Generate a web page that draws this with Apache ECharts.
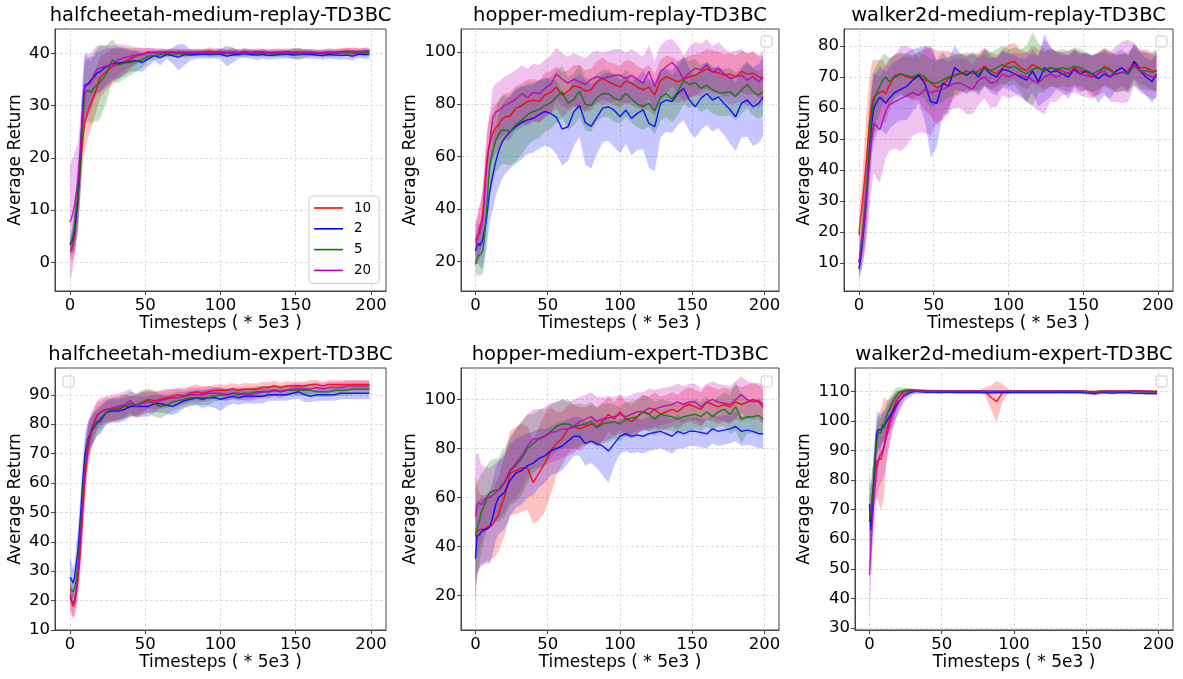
<!DOCTYPE html>
<html><head><meta charset="utf-8">
<script src="https://cdn.jsdelivr.net/npm/echarts@6/dist/echarts.min.js"></script>
<style>html,body{margin:0;padding:0;background:#fff}#c{width:1183px;height:679px}</style>
</head><body><div id="c"></div>
<script>
// ---- shared x grid (training iterations, *5e3 timesteps) ----
const xs = [0,1,2,3,4,5,6,7,8,9,10, 12,14,16,18,20, 24,28,32,36,40,44,48,52,56,60, 64,68,72,76,80,84,88,92,96,100, 104,108,112,116,120,124,128,132,136,140, 144,148,152,156,160,164,168,172,176,180, 184,188,192,196,199];
const xTicks = [0,50,100,150,200];
const seriesNames = ['10','2','5','20'];

// ---- halfcheetah-medium-replay ----
const hcMR_10 = [2,2.5,3.5,5.5,9,11,15,19,22,25,27, 29,30.5,32,33.5,35.5, 36.5,37.5,38,38.5,39,39.5,39.8,40.3,40.2,40.1, 40.3,40.2,40.3,40.1,40.2,40.3,40.2,40.5,40.3,40.4, 40.2,40.3,40.1,40.3,40.2,40.4,40.3,40.1,40.2,40.3, 40.4,40.2,40.3,40.1,40.3,40.2,40.0,40.2,40.3,40.4, 40.5,40.3,40.4,40.3,40.4];
const hcMR_10sd = [1.5,2,3,4,5,6,6,6,5.5,5,5, 5,5,4.5,4,4, 3.5,3.5,3,2.5,2,1.5,1.2,0.8,0.7,0.7, 0.6,0.7,0.6,0.6,0.7,0.6,0.6,0.7,0.6,0.6, 0.6,0.7,0.6,0.6,0.7,0.6,0.6,0.6,0.7,0.6, 0.6,0.6,0.7,0.6,0.6,0.6,0.7,0.6,0.6,0.6, 0.6,0.7,0.6,0.7,0.6];
const hcMR_2 = [3.3,3.5,4.5,6,8.5,12,16,21,27,32,34, 34.2,35,35.5,36.3,36.5, 37.5,38,38.2,38.3,38.5,38.6,38.3,39,39.6,39.2, 39.8,39.6,39.3,39.8,39.7,39.8,39.9,39.8,39.8,39.9, 39.5,39.7,39.8,40.0,39.8,39.7,39.8,39.6,39.7,39.8, 39.9,39.7,39.8,39.9,39.8,39.7,39.6,39.8,39.7,39.6, 39.7,39.5,39.9,39.8,39.8];
const hcMR_2sd = [1.5,2,3,4,5,6,6,6,6,6,6, 5,4.5,4,4,4, 3.5,3,3,2.5,2,2,1.8,1.5,1,1.5, 0.8,1.5,2.5,2,1,0.8,0.8,0.8,0.8,1, 2,1.5,0.8,0.8,0.8,1,0.8,0.8,0.8,0.8, 0.8,0.8,0.8,0.8,0.8,0.8,0.8,0.8,0.8,0.8, 0.8,0.8,0.8,0.8,0.8];
const hcMR_5 = [3.5,4,5,7,10,12,15,19,25,29,32.5, 33,32.5,33.5,34,34.5, 36,38.8,37.8,38.2,38.3,38.5,38.8,39.5,39.6,39.8, 40.0,39.9,40.0,39.9,40.0,40.1,40.0,40.1,39.9,40.0, 40.1,40.0,40.1,40.0,40.1,40.0,40.0,40.1,39.9,40.0, 40.0,40.1,39.9,40.0,40.1,40.0,40.1,40.0,40.0,40.1, 40.2,40.0,40.1,40.1,40.2];
const hcMR_5sd = [1.5,2,3,4,5,6,6,6,6,6,6, 6,6,6.5,7,7, 5.5,4,3.5,3,2.5,2,1.5,1,0.8,0.7, 0.7,0.6,0.6,0.7,0.6,0.6,0.6,0.7,0.6,0.6, 0.6,0.6,0.7,0.6,0.6,0.6,0.7,0.6,0.6,0.6, 0.6,1,1.2,0.8,0.6,0.6,0.6,0.7,0.6,0.6, 0.6,0.6,0.6,0.7,0.6];
const hcMR_20 = [7.7,8.5,9.5,11,13,14.5,18,22,27,31,33.5, 34,34.5,36,37,37.2, 37.6,38,38.8,39.2,39.5,39.7,39.9,40.1,40.2,40.3, 40.2,40.3,40.1,40.3,40.2,40.1,40.3,40.2,40.3,40.2, 40.1,40.3,40.2,40.4,40.2,40.1,40.3,40.2,40.3,40.2, 40.1,40.3,40.2,40.3,40.2,40.1,40.2,40.3,40.2,40.3, 40.4,40.5,40.3,40.5,40.5];
const hcMR_20sd = [11,11,10.5,10,9,8,7,6.5,6,6,6.5, 6,5.5,5,4.5,4.5, 4,3.5,3,2.5,2,1.5,1.2,1,0.8,0.7, 0.6,0.6,0.7,0.6,0.6,0.7,0.6,0.6,0.6,0.7, 0.6,0.6,0.6,0.7,0.6,0.6,0.6,0.7,0.6,0.6, 0.6,0.6,0.7,0.6,0.6,0.6,0.6,0.7,0.6,0.6, 0.6,0.7,0.6,0.7,0.6];

// ---- hopper-medium-replay ----
const hopMR_10 = [28,29,30,33,35,38,45,53,59,63,65, 69,71,72,74,75, 75.5,78.5,79.5,81,81.5,81,83.5,84.5,86.5,83.5, 85,87,86.5,85,85.5,88.5,89.8,88.5,87.5,86.5, 88.8,88,86.5,85.5,86.5,83.5,89,90.5,89.5,88.5, 89.5,90.5,91,92.3,93.5,92.5,92,91,91.5,90.5, 92.5,91.5,91.8,90.5,89.8];
const hopMR_10sd = [6,7,8,9,9,10,10,10,10,10,10, 10,9.5,9,9,9, 9,8.5,8.5,8.5,8,8,8.5,8,8,8.5, 8,8,8.5,8,8,8,8,7.5,8,8, 8,8.5,8,8,8.5,8,8,8,8.5,8, 8,8,8,7.5,7.5,8,8,8,8,8, 8,8,8,8,8.5];
const hopMR_2 = [24,26,27,26,26,28,31,34,38,43,47, 53,58,62,65,67, 69.5,71.4,73,74,74.6,76,77.2,76.5,75,70.5, 71.4,77,79.5,73,71.5,75,78.5,79,77.7,75.2, 77.8,74.6,76.5,77.8,72.7,71.4,80.3,81.6,81,84.1, 86,81.6,79,82.2,84.1,81.6,82.8,80.3,78,75.2, 80.3,81.6,79,80.3,82.8];
const hopMR_2sd = [6,7,8,8,9,10,11,11,12,12,12, 13,13,14,14,14, 14,14,14,13,13,13,13,13,14,14, 13,13,12,16,16,14,13,13,14,14, 13,14,14,15,17,17,13,12,12,12, 12,12,12,12,12,12,12,12,13,13, 13,14,15,15,15];
const hopMR_5 = [19,21,22,22,23,24,28,35,42,50,57, 62,66,68.5,70,70.2, 69.5,72.3,73.8,76,77.2,78,79.5,80.5,82.8,84.7, 80.3,81.8,85,80,79.5,82.5,84.1,84,82.2,81.6, 84.1,82,80,79.2,80.3,77.5,82.5,84,82,84.8, 89,87.5,88.3,86,87.3,85.5,84.5,84.4,84.8,83, 85.4,87.5,84.8,83.5,84.8];
const hopMR_5sd = [5,6,7,8,8,9,10,10,11,11,12, 12,12,13,13,13, 13,14,13,12,11,11,10,10,10,10, 10,10,10,10,10,9,9,9,9,9, 9,9,9,9,9,9,9,9,9,9, 9,9,9,9,9,9,9,9,9,9, 9,9,9,9,9];
const hopMR_20 = [27,28,30,31,33,36,42,50,57,62,66, 75,77,77.5,78.5,79.5, 80.5,82,84,82.5,84.5,84,86,87.5,91.5,89.5, 88,89.5,88.5,87.5,89.5,90.5,89.8,90.4,91,91.1, 89.8,91,89.5,88,92.5,86.7,92.4,94.3,96,93.5, 89.5,92,93.7,93,95,92,93.7,91.5,89.8,90.5, 91.1,89.2,90.5,88.5,90.5];
const hopMR_20sd = [8,9,10,10,11,11,12,12,12,12,12, 11,11,11,11,11, 11,11,11,11,11,11,11,11,10,10, 10,10,10,10,10,10,10,10,10,10, 10,10,10,10,10,10,10,10,9,9, 9,10,10,10,10,10,10,10,10,10, 10,10,10,10,10];

// ---- walker2d-medium-replay ----
const wkMR_10 = [19,24,28,33,38,43,49,55,59,62,63.5, 64.5,65,65.5,64.5,67, 70.5,71,70,69.5,70.5,69,68.5,66.5,67.5,69.5, 70.5,71,72,71,72,73.5,72,71,73,74.5, 75,73,72,74,73,72,73,72.5,72,71, 73,72,71.5,70,71,73.5,72.5,71,71.5,72, 75,73,73,72,72];
const wkMR_10sd = [5,7,9,11,13,15,15,15,14,13,12, 11,10.5,10,9,8, 7,6.5,6.5,7,8,10,11,12,11,9, 7,6.5,6,6,6,6,6,6,6,6, 6,6,6,6,6,6,6,6,6,6, 6,6,6,6.5,6.5,6,6,6,6,6, 5.5,5.5,6,6,7];
const wkMR_2 = [8,11,15,20,25,31,38,45,52,57,60, 62,63.5,62.5,61.5,63, 65,66,67,69,70.5,68,62,61.5,68,67, 73,71.5,70.5,72,70,73,71,70,72.5,72, 71,70,69,72,68.5,73,71.5,72,71,70, 72.5,71,72,71,69.5,71,70,72,73,71, 75,72,70,68.5,71];
const wkMR_2sd = [3,5,7,9,10,11,12,12,12,11,11, 10,10,10,10,10, 10,10,11,10,9,12,18,14,10,9, 7,6,6,6,6,6,6,6,6,6, 6,6,7,7,8,11,8,6,6,7, 6,6,6,6,8,7,7,6,6,6, 6,6,6,7,7];
const wkMR_5 = [10,14,18,23,28,34,41,48,55,60,62, 65,67,69,70,68.5, 70,71,70.5,70,71,70,68,68,69,70, 70.5,71.5,71,72,71,73,72,73,74,73, 73.5,72,71,72.5,73,72,73,72.5,73,72.5, 73.5,73,72,71,72,73,72,71,71.5,71, 73.5,72,72,71.5,72];
const wkMR_5sd = [3,5,7,9,11,12,12,12,12,11,10, 9,8.5,8,7.5,7.5, 7,7,7,7,7,7,8,7,7,6.5, 6.5,6,6,6,6,6,6,6,6,6, 6,7,9,12,8,7,6,6,6,6, 6,6,6,6,6,6,6,6,6,6, 6,6,6,6,6.5];
const wkMR_20 = [10,13,17,21,26,31,37,43,48,52,55, 54,53,56,59,61, 62,63,64,65,64,66,65,65.5,66,67, 68,68,67,66,69,70,68,68.5,71,70, 71,70.5,70,69,68,70,71,70,71,71.5, 72,71,70.5,70,71,72,70,71,71.5,72, 74,72,71,70,70];
const wkMR_20sd = [4,6,8,10,12,14,15,16,16,16,16, 17,17,16,15,15, 15,17,16,14,12,14,14,10,10,8, 8,8,9,8,8,7,8,8,7,7, 7,7,8,8,9,12,9,8,7,7, 7,7,7,7,7,7,8,9,10,10, 7,7,7,7,7];

// ---- halfcheetah-medium-expert ----
const hcME_10 = [22,20,18,19,22,26,31,38,46,54,62, 72,77,80,83,84, 85,85,85.5,86,86,86.5,87.5,88.5,88,88.5, 89,89.5,90,89.5,90.5,91,90.5,91,91.5,91.5, 91.5,92,91.5,92,92,92,92.5,92.5,93,92.5, 93,93,93,93,93.5,93.5,93,93.5,93.5,93.5, 93.5,93.5,93.5,93.5,93.5];
const hcME_10sd = [4,4,4,4,5,6,7,8,8,8,8, 7,6,5,4.5,4, 4,4,4,4,3.5,3.5,3.5,3,3,3, 3,2.5,2.5,2.5,2.5,2.5,2.5,2,2,2, 2,2,2,2,1.8,1.8,1.8,1.8,1.8,1.5, 1.5,1.5,1.5,1.5,1.5,1.5,1.5,1.5,1.5,1.5, 1.5,1.5,1.5,1.5,1.5];
const hcME_2 = [28,27,26,28,32,36,42,49,57,64,70, 75,77.5,79,80.5,81, 84,84.5,84.5,85,86,86,86,86,87,87, 86.5,86,87,88,88.5,89,88.5,89,89,88.5, 89,89.5,89,89.5,89.5,89.5,89.5,90,90,90, 90,90.5,91,90,89.5,90,90,90,90,90.5, 90.5,90.5,90.5,90.5,90.5];
const hcME_2sd = [7,6,5,5,6,7,8,8,8,7,7, 6,5,5,4.5,4.5, 4,4,4,4,3.5,3.5,3.5,3.5,3,3, 3,3,3,2.5,2.5,2.5,3,3,3.5,4, 3,2.5,2.5,2.5,2.5,2.5,2.5,2,2,2, 2,2,2.5,2.5,2,2,2,2,2,2, 2,2,2,2,2];
const hcME_5 = [24,24,23,24,27,31,37,44,53,61,67, 74,77,79,81,82, 84,85,85,86,87,86.5,87.5,88,87,86, 86.5,87.5,88,88.5,89,89,89,89,89.5,90, 90,90.5,90,90.5,90.5,91,91,91,91.5,91, 91.5,91.5,91.5,91.5,91.5,91,91,91,91.5,91.5, 91.5,92,92,92,92];
const hcME_5sd = [4,4,4,4,5,6,7,7,7,7,7, 6,5,5,4.5,4.5, 4,4,4,4,4,4,4,4,4.5,4, 3.5,3,3,2.5,2.5,2.5,2.5,2.5,2,2, 2,2,2,2,2,2,2,2,1.8,1.8, 1.8,1.8,1.8,1.8,1.8,1.8,1.8,1.8,1.8,1.8, 1.8,1.8,1.8,1.8,1.8];
const hcME_20 = [21,20,19,20,23,28,34,42,50,58,65, 74,78,81,83,84, 85,85.5,86,86.5,88,86,87,87.5,87.5,88, 88.5,89,89,89.5,90,90,90,90.5,90.5,90.5, 90,90.5,90.5,90,90,90.5,91,91,91.5,91, 91.5,92,92,92,92,92.5,92,92.5,92.5,92.5, 93,93,93,93,93];
const hcME_20sd = [5,5,5,5,5,6,7,8,8,8,8, 7,6,5,5,5, 4.5,4.5,4.5,4.5,4,4,4,3.5,3.5,3, 3,3,3,2.5,2.5,2.5,2.5,2.5,2,2, 2,2,2,2,2,2,2,2,2,2, 1.8,1.8,1.8,1.8,1.8,1.8,1.8,1.8,1.8,1.8, 1.8,1.8,1.8,1.8,1.8];

// ---- hopper-medium-expert ----
const hopME_10 = [44,46,46,47,47,47,46,47,48,48,48, 49,51,53,57,60, 70,71,72,72,66,70,74,79,82,84, 88,89,88,89,90,89,91,94,92,95, 92,91,93,95,94,96,94,95,96,95, 97,98,97,96,99,98,97,98,97,99, 98,99,100,99,97];
const hopME_10sd = [25,20,17,15,14,14,13,13,14,14,14, 14,15,15,16,16, 17,18,18,17,17,19,20,18,13,11, 10,9,9,8,8,8,8,7,7,7, 7,7,7,7,7,7,7,7,7,7, 7,7,7,7,7,7,7,7,7,7, 7,7,7,7,7];
const hopME_2 = [35,44,44,45,46,46,47,47,47,47,48, 52,57,60,61,62, 67,70,71,73,74,76,77,79,80,81, 83,85,85,82,83,82,81,79,82,85, 86,85,85.5,85,86,86.5,87,86,85,87, 86,87,87,86.5,86,88,87,87.5,88,89, 87,87.5,87,86,86];
const hopME_2sd = [22,15,14,14,14,14,14,14,14,14,15, 15,15,15,15,15, 15,14,14,13,13,12,11,10,10,10, 9,8,8,9,9,10,12,13,9,7, 7,7,7,7,7,7,7,7,7,7, 6,6,6,6,6,6,6,6,6,6, 6,6,6,6,6];
const hopME_5 = [44,47,49,51,54,55,57,58,60,61,62, 62.5,63,63,65,66, 71,73,76,80,82,84,85,87,89,90, 90,89,89.5,90,91,88.5,90,90.5,91,90, 92,92.5,93,95,94,92,94,93.5,93,92, 93,93.5,94,93,95,93,95,96,94,97, 92,93,93,93.5,92];
const hopME_5sd = [20,19,18,17,16,15,14,14,13,13,13, 13,13,13,14,14, 14,15,15,14,12,12,11,11,10,10, 10,9,9,8,8,8,8,8,7,7, 7,7,7,7,7,7,6,6,6,6, 6,6,6,6,6,6,6,7,8,10, 10,7,7,7,7];
const hopME_20 = [52,56,58,58,57,58,59,59,60,60,60, 61,62,63,64,66, 71,74,77,81,84,84,85,86.5,87,88, 88,89,91,92,93,91,92,92.5,93,94, 93,94,95,95,96.5,96,97,97.5,98,99, 98,99,99,97,99,100,99,98.5,98,100, 102,100,99,99.5,98];
const hopME_20sd = [25,22,20,18,16,15,14,13,13,12,12, 12,12,12,12,12, 13,14,14,13,12,12,12,12,12,12, 11,11,10,10,10,10,9,9,8,8, 8,8,8,8,8,8,7.5,7.5,7.5,7.5, 7.5,7.5,7.5,7.5,7.5,7.5,7.5,7.5,7.5,7.5, 7.5,7.5,7.5,7.5,7.5];

// ---- walker2d-medium-expert ----
const wkME_10 = [66,69,75,79,83,86,87,87,87,89,91, 97,100.5,103.5,106,108, 110,110.3,110.3,110.3,110.2,110.2,110.2,110.1,110.1,110.1, 110.1,110.1,110.1,110.1,110,108,106.5,109.5,110,110, 110,110.1,110,110.1,110.1,110,110.1,110,110,110, 110,110,109.9,109.8,110,110,110,110,110,110.1, 110.2,110.1,110,110,110];
const wkME_10sd = [8,8,8,9,10,12,14,16,17,17,17, 10,7,5,3.5,2, 1,0.6,0.5,0.5,0.4,0.4,0.4,0.4,0.4,0.4, 0.4,0.4,0.4,0.4,1.5,4,7,3,0.8,0.5, 0.5,0.4,0.4,0.4,0.4,0.4,0.4,0.4,0.4,0.4, 0.4,0.4,0.4,0.4,0.4,0.4,0.4,0.4,0.4,0.4, 0.4,0.4,0.4,0.4,0.5];
const wkME_2 = [72,63,70,80,88,96,97,96.5,97,97.5,98, 100,101.5,103,105,106.5, 108.5,109.5,110,109.8,109.7,109.7,109.6,109.7,109.7,109.6, 109.6,109.6,109.6,109.6,109.6,109.5,109.6,109.6,109.6,109.6, 109.6,109.6,109.6,109.6,109.6,109.6,109.6,109.7,109.6,109.6, 109.6,109.5,109.4,109.2,109.5,109.5,109.4,109.5,109.5,109.5, 109.4,109.4,109.3,109.3,109.3];
const wkME_2sd = [10,15,12,10,8,7,6,6,5,5,5, 5,5,5,4.5,4, 2,1.2,0.8,0.6,0.6,0.5,0.5,0.5,0.5,0.5, 0.5,0.5,0.5,0.5,0.5,0.5,0.5,0.5,0.5,0.5, 0.5,0.5,0.5,0.5,0.5,0.5,0.5,0.5,0.5,0.5, 0.5,0.5,0.5,0.6,0.5,0.5,0.5,0.5,0.5,0.5, 0.5,0.5,0.5,0.5,0.5];
const wkME_5 = [66,68,74,80,88,93,96,95.5,96,99,98, 102,104,106,108,109.5, 110.3,110.5,110.3,110.2,110.2,110.1,110.1,110.1,110,110, 110,110,110,110,110,110,110,110,110,110, 110,110,110,110,110,110,110,110,110,110, 110,110,109.9,109.9,110,110,109.9,110,109.9,110, 110,109.9,109.9,109.8,109.8];
const wkME_5sd = [12,11,10,8,7,6,6,5.5,5,5,5, 4.5,4,3.5,3,2, 1,0.6,0.5,0.4,0.4,0.4,0.4,0.4,0.4,0.4, 0.4,0.4,0.4,0.4,0.4,0.4,0.4,0.4,0.4,0.4, 0.4,0.4,0.4,0.4,0.4,0.4,0.4,0.4,0.4,0.4, 0.4,0.4,0.4,0.4,0.4,0.4,0.4,0.4,0.4,0.4, 0.4,0.4,0.4,0.4,0.4];
const wkME_20 = [48,58,66,73,78,83,86,88,89,90,91, 95,99,102,104,106, 109,110,110.2,110.1,110.1,110,110,110,110,110, 110,110,110,110,110,110,110,110,110,110, 110,110,110,110,110,110,110,110,110,110, 110,110,109.9,109.8,109.9,110,110,110,110,110, 110,110,110,109.9,109.9];
const wkME_20sd = [15,13,11,10,10,10,10,10,10,10,10, 8,7,6,4,3, 1.5,0.8,0.5,0.4,0.4,0.4,0.4,0.4,0.4,0.4, 0.4,0.4,0.4,0.4,0.4,0.4,0.4,0.4,0.4,0.4, 0.4,0.4,0.4,0.4,0.4,0.4,0.4,0.4,0.4,0.4, 0.4,0.4,0.4,0.4,0.4,0.4,0.4,0.4,0.4,0.4, 0.4,0.4,0.4,0.4,0.4];

// ---- per-panel y tick labels ----
const yTicks1 = [0,10,20,30,40];
const yTicks2 = [20,40,60,80,100];
const yTicks3 = [10,20,30,40,50,60,70,80];
const yTicks4 = [10,20,30,40,50,60,70,80,90];
const yTicks5 = [20,40,60,80,100];
const yTicks6 = [30,40,50,60,70,80,90,100,110];

const lineColors = ['#ff0000','#0000ff','#008000','#bf00bf'];
const bandColors = ['rgba(255,0,0,0.24)','rgba(0,0,255,0.22)','rgba(0,128,0,0.24)','rgba(191,0,191,0.24)'];

const panels = [
  {title:'halfcheetah-medium-replay-TD3BC', means:[hcMR_10,hcMR_2,hcMR_5,hcMR_20], sds:[hcMR_10sd,hcMR_2sd,hcMR_5sd,hcMR_20sd], ymin:-5.5, ymax:44.7, ticks:yTicks1, g:{left:55,top:29,width:331,height:262}, nameGap:31, box:null},
  {title:'hopper-medium-replay-TD3BC', means:[hopMR_10,hopMR_2,hopMR_5,hopMR_20], sds:[hopMR_10sd,hopMR_2sd,hopMR_5sd,hopMR_20sd], ymin:8.7, ymax:108.7, ticks:yTicks2, g:{left:461,top:29,width:318,height:262}, nameGap:42, box:[761,36]},
  {title:'walker2d-medium-replay-TD3BC', means:[wkMR_10,wkMR_2,wkMR_5,wkMR_20], sds:[wkMR_10sd,wkMR_2sd,wkMR_5sd,wkMR_20sd], ymin:0.9, ymax:85.5, ticks:yTicks3, g:{left:844,top:29,width:329,height:262}, nameGap:31, box:[1156,36]},
  {title:'halfcheetah-medium-expert-TD3BC', means:[hcME_10,hcME_2,hcME_5,hcME_20], sds:[hcME_10sd,hcME_2sd,hcME_5sd,hcME_20sd], ymin:10, ymax:99.1, ticks:yTicks4, g:{left:55,top:368,width:331,height:262}, nameGap:31, box:[63,376]},
  {title:'hopper-medium-expert-TD3BC', means:[hopME_10,hopME_2,hopME_5,hopME_20], sds:[hopME_10sd,hopME_2sd,hopME_5sd,hopME_20sd], ymin:5.8, ymax:112.9, ticks:yTicks5, g:{left:461,top:368,width:318,height:262}, nameGap:42, box:[761,376]},
  {title:'walker2d-medium-expert-TD3BC', means:[wkME_10,wkME_2,wkME_5,wkME_20], sds:[wkME_10sd,wkME_2sd,wkME_5sd,wkME_20sd], ymin:29.3, ymax:117.9, ticks:yTicks6, g:{left:855,top:368,width:318,height:262}, nameGap:42, box:[1156,376]}
];

const FONT = 'DejaVu Sans';
const grids = [], xAxes = [], yAxes = [], series = [], graphics = [];

panels.forEach((p, pi) => {
  grids.push(Object.assign({show:true, borderColor:'#444', borderWidth:1, backgroundColor:'transparent', containLabel:false, outerBoundsMode:'none'}, p.g));
  xAxes.push({
    gridIndex:pi, type:'value', min:-10, max:210,
    axisLine:{show:true, onZero:false, lineStyle:{color:'#444', width:1}},
    axisTick:{show:true, inside:false, length:4, customValues:xTicks, lineStyle:{color:'#444'}},
    axisLabel:{customValues:xTicks, fontSize:16.5, color:'#000', margin:6, fontFamily:FONT},
    splitLine:{show:true, lineStyle:{color:'#d4d4d4', width:0.8, type:[3,2]}},
    name:'Timesteps ( * 5e3 )', nameLocation:'middle', nameGap:24.5, nameMoveOverlap:false,
    nameTextStyle:{fontSize:17, color:'#000', fontFamily:FONT}
  });
  yAxes.push({
    gridIndex:pi, type:'value', min:p.ymin, max:p.ymax,
    axisLine:{show:true, onZero:false, lineStyle:{color:'#444', width:1}},
    axisTick:{show:true, inside:false, length:4, customValues:p.ticks, lineStyle:{color:'#444'}},
    axisLabel:{customValues:p.ticks, fontSize:16.5, color:'#000', margin:5, fontFamily:FONT},
    splitLine:{show:true, lineStyle:{color:'#d4d4d4', width:0.8, type:[3,2]}},
    name:'Average Return', nameLocation:'middle', nameGap:p.nameGap, nameMoveOverlap:false,
    nameTextStyle:{fontSize:17, color:'#000', fontFamily:FONT}
  });
  // bands
  p.means.forEach((m, si) => {
    const sd = p.sds[si];
    series.push({
      type:'custom', xAxisIndex:pi, yAxisIndex:pi, silent:true, z:1, animation:false,
      data: xs.map((x,k) => [x, m[k]-sd[k], m[k]+sd[k]]),
      encode:{x:0, y:[1,2]},
      renderItem: function(params, api){
        if (params.dataIndex !== 0) return null;
        const up = [], lo = [];
        for (let k = 0; k < xs.length; k++) {
          up.push(api.coord([xs[k], m[k]+sd[k]]));
          lo.push(api.coord([xs[k], m[k]-sd[k]]));
        }
        return {type:'polygon', shape:{points: up.concat(lo.reverse())}, style:{fill:bandColors[si], stroke:'none'}};
      }
    });
  });
  // mean lines
  p.means.forEach((m, si) => {
    series.push({
      type:'line', name:seriesNames[si], xAxisIndex:pi, yAxisIndex:pi,
      data: xs.map((x,k) => [x, m[k]]),
      showSymbol:false, symbol:'none', silent:true, animation:false, z:3,
      lineStyle:{width:1.5, color:lineColors[si], opacity:0.85},
      itemStyle:{color:lineColors[si]}
    });
  });
  // title text
  graphics.push({type:'text', silent:true, x:p.g.left + p.g.width/2, y:p.g.top - 13,
    style:{text:p.title, fontSize:19.5, fontFamily:FONT, fill:'#000', align:'center', verticalAlign:'middle', textAlign:'center', textVerticalAlign:'middle'}});
  if (p.box) {
    graphics.push({type:'rect', silent:true, shape:{x:p.box[0], y:p.box[1], width:11, height:11, r:2},
      style:{fill:'rgba(255,255,255,0.8)', stroke:'#cccccc', lineWidth:1}});
  }
});

const chart = echarts.init(document.getElementById('c'), null, {renderer:'canvas'});
chart.setOption({
  animation:false,
  backgroundColor:'#ffffff',
  textStyle:{fontFamily:FONT},
  grid:grids, xAxis:xAxes, yAxis:yAxes, series:series,
  legend:{
    data:seriesNames, left:309, top:196, orient:'vertical', selectedMode:false,
    padding:[5,8,6,5], itemWidth:29, itemHeight:1.6, itemGap:6.8, icon:'rect',
    textStyle:{fontSize:13.5, lineHeight:14, color:'#000', fontFamily:FONT, padding:[0,0,0,6]},
    borderColor:'#cccccc', borderWidth:1, borderRadius:3, backgroundColor:'rgba(255,255,255,0.8)'
  },
  graphic:graphics
});
</script>
</body></html>
